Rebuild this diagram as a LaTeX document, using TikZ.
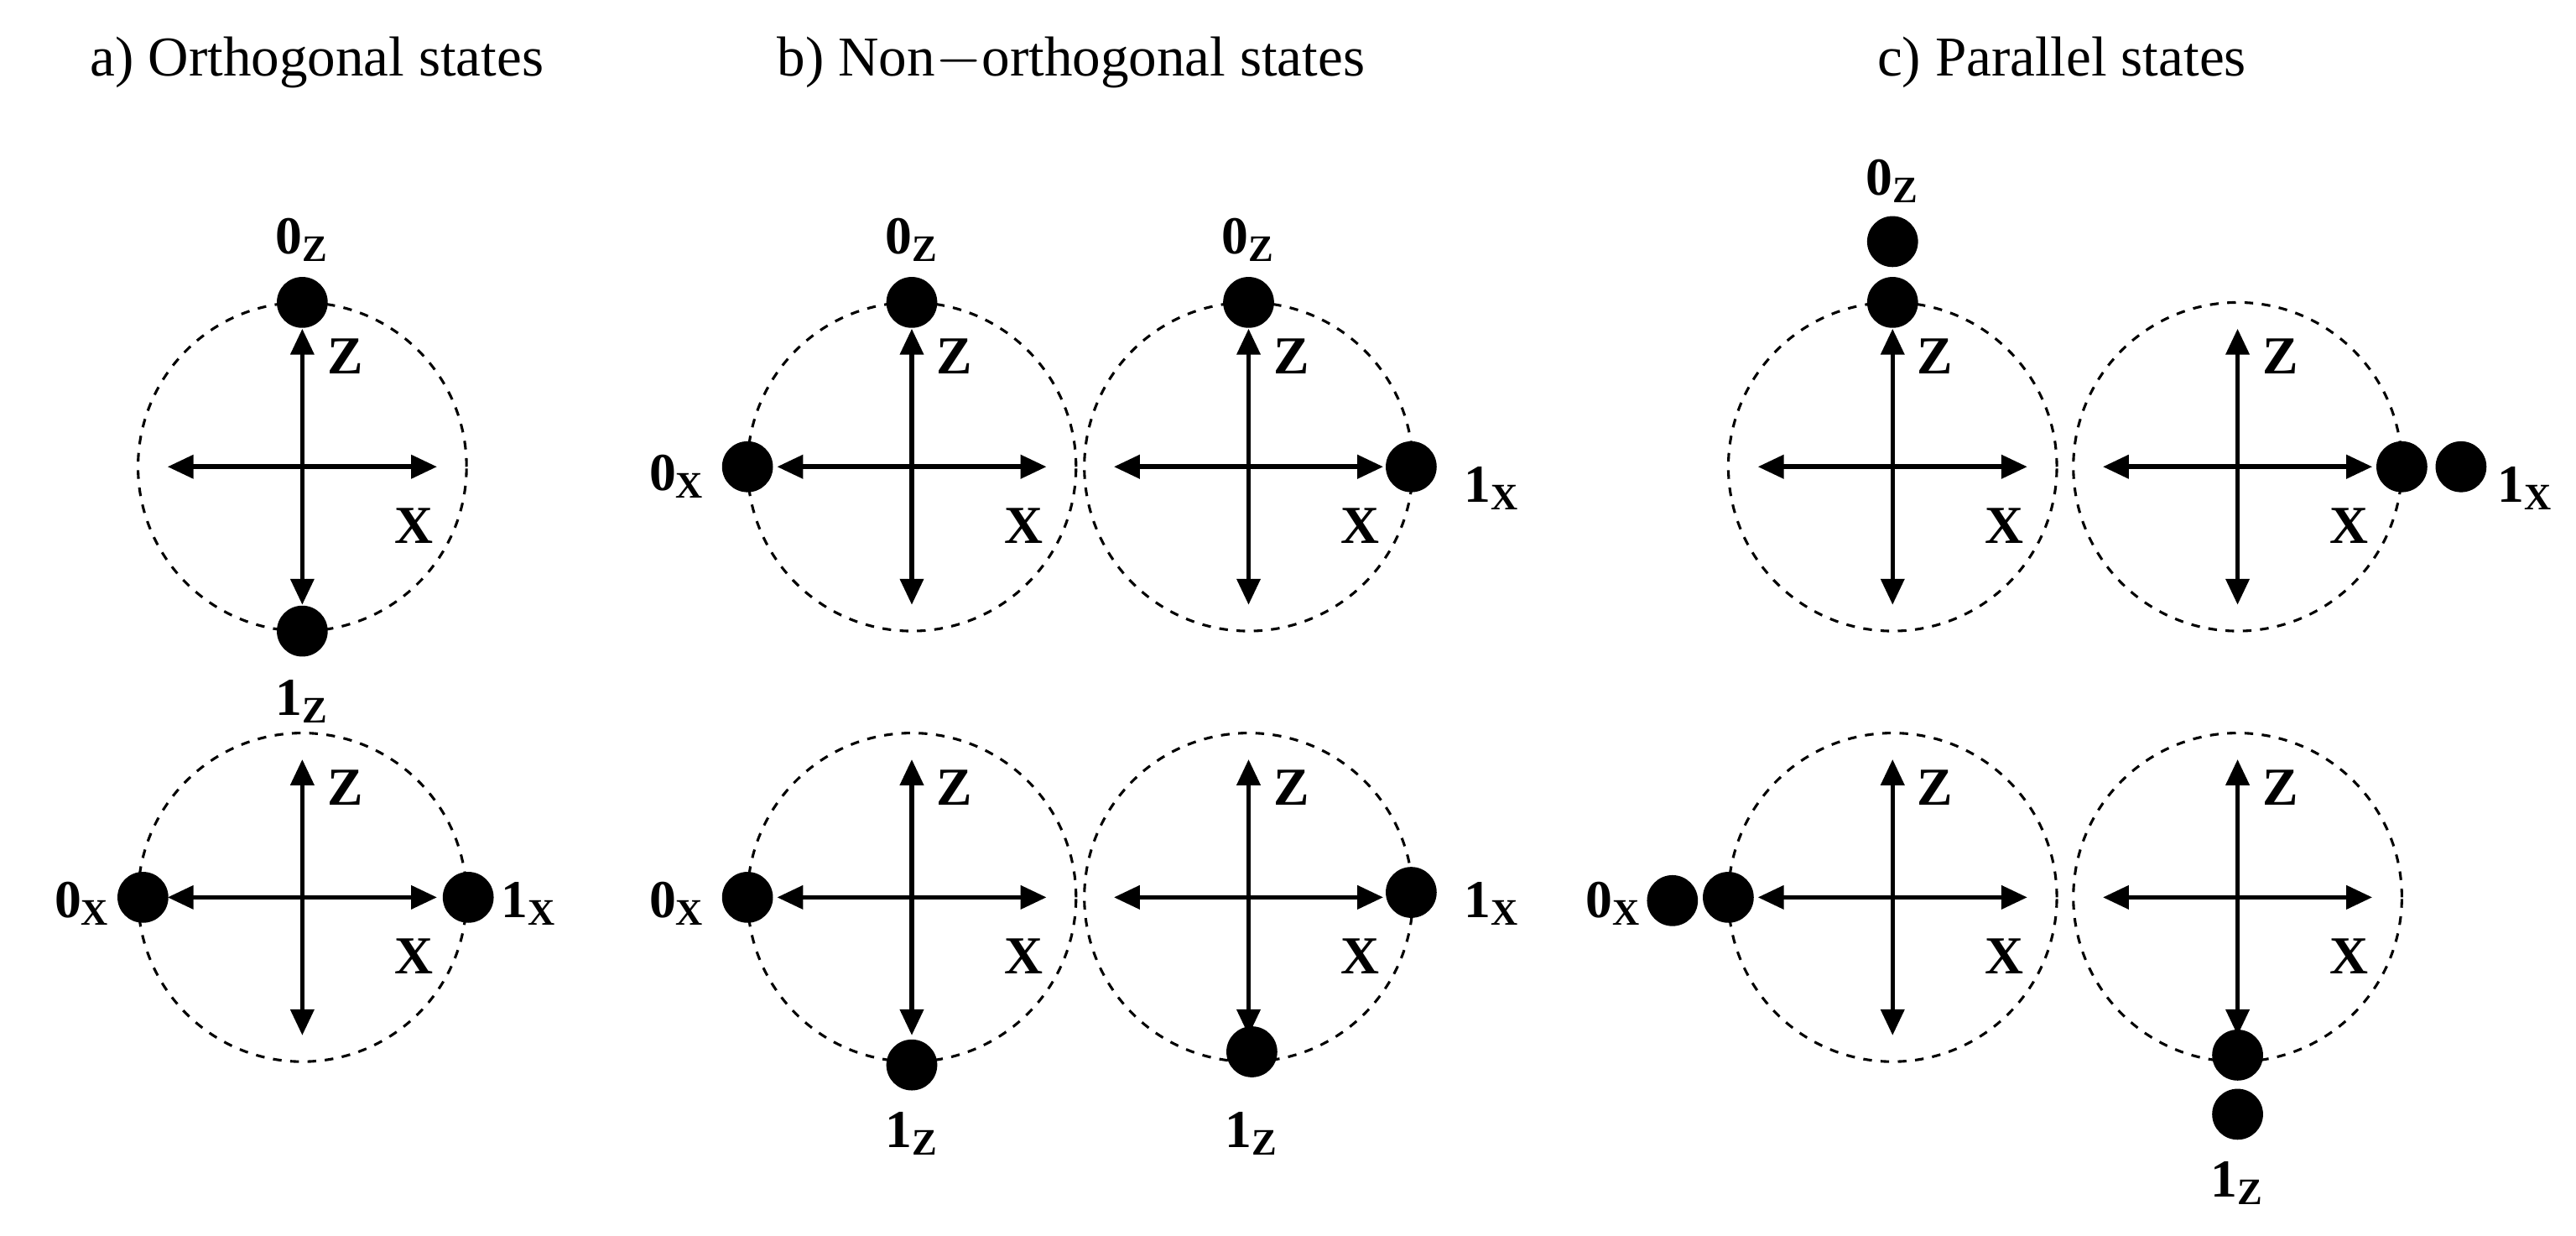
\documentclass[tikz,border=0pt]{standalone}
\usepackage{fontspec}
\setmainfont{Liberation Serif}
\usetikzlibrary{arrows.meta}
\begin{document}
\begin{tikzpicture}[x=0.02cm,y=-0.02cm,
 circ/.style={draw,dashed,line width=0.9pt,circle,minimum size=4cm,inner sep=0},
 ax/.style={line width=1.6pt,{Triangle[length=9pt,width=8pt]}-{Triangle[length=9pt,width=8pt]}},
 dot/.style={circle,fill=black,minimum size=0.62cm,inner sep=0},
 lab/.style={font=\fontsize{18.5}{18.5}\selectfont\bfseries},
 ttl/.style={font=\fontsize{19.5}{19.5}\selectfont}]
\useasboundingbox (0,0) rectangle (1568,752);
\node[ttl] (ta) at (193,38) {a) Orthogonal states};
\node[ttl] (tb) at (652,38) {b) Non$-$orthogonal states};
\node[ttl] (tc) at (1255,38) {c) Parallel states};
\foreach \n/\x/\y in {a1/184/284,a2/184/546,b1/555/284,b2/760/284,b3/555/546,b4/760/546,c1/1152/284,c2/1362/284,c3/1152/546,c4/1362/546}{
 \node[circ] (\n) at (\x,\y) {};
 \coordinate (\n l) at (\x-82,\y); \coordinate (\n r) at (\x+82,\y);
 \coordinate (\n t) at (\x,\y-84); \coordinate (\n b) at (\x,\y+84);
 \draw[ax] (\n l) -- (\n r);
 \draw[ax] (\n t) -- (\n b);
 \node[lab] (\n Z) at (\x+26,\y-67) {Z};
 \node[lab] (\n X) at (\x+68,\y+36) {X};
}
% a
\node[dot] (d1) at (184,184) {}; \node[lab] (l1) at (184,146) {0\textsubscript{Z}};
\node[dot] (d2) at (184,384) {}; \node[lab] (l2) at (184,427) {1\textsubscript{Z}};
\node[dot] (d3) at (87,546) {}; \node[lab] (l3) at (50,550) {0\textsubscript{X}};
\node[dot] (d4) at (285,546) {}; \node[lab] (l4) at (322,550) {1\textsubscript{X}};
% b
\node[dot] (d5) at (555,184) {}; \node[lab] (l5) at (555,146) {0\textsubscript{Z}};
\node[dot] (d6) at (455,284) {}; \node[lab] (l6) at (412,290) {0\textsubscript{X}};
\node[dot] (d7) at (760,184) {}; \node[lab] (l7) at (760,146) {0\textsubscript{Z}};
\node[dot] (d8) at (859,284) {}; \node[lab] (l8) at (908,297) {1\textsubscript{X}};
\node[dot] (d9) at (455,546) {}; \node[lab] (l9) at (412,550) {0\textsubscript{X}};
\node[dot] (d10) at (555,648) {}; \node[lab] (l10) at (555,690) {1\textsubscript{Z}};
\node[dot] (d11) at (859,543) {}; \node[lab] (l11) at (908,550) {1\textsubscript{X}};
\node[dot] (d12) at (762,640) {}; \node[lab] (l12) at (762,690) {1\textsubscript{Z}};
% c
\node[dot] (d13) at (1152,184) {}; \node[dot] (d14) at (1152,147) {}; \node[lab] (l13) at (1152,110) {0\textsubscript{Z}};
\node[dot] (d15) at (1462,284) {}; \node[dot] (d16) at (1498,284) {}; \node[lab] (l15) at (1537,297) {1\textsubscript{X}};
\node[dot] (d17) at (1052,546) {}; \node[dot] (d18) at (1018,548) {}; \node[lab] (l17) at (982,550) {0\textsubscript{X}};
\node[dot] (d19) at (1362,642) {}; \node[dot] (d20) at (1362,678) {}; \node[lab] (l19) at (1362,720) {1\textsubscript{Z}};
\end{tikzpicture}
\end{document}
